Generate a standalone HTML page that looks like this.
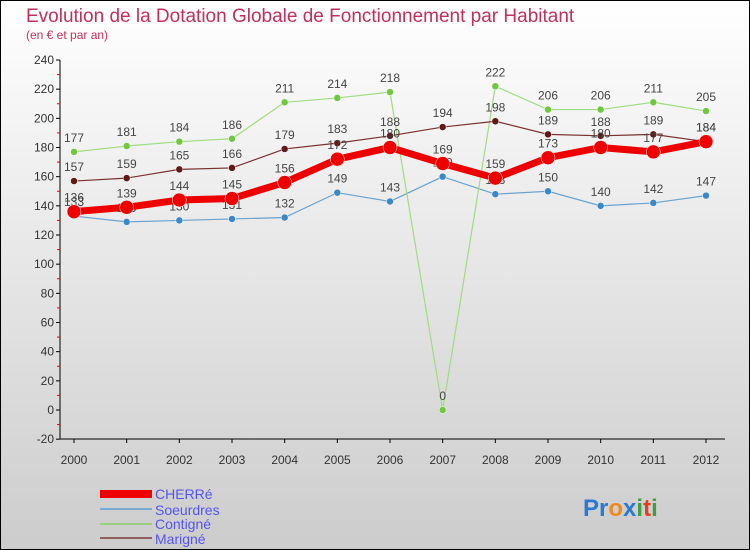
<!DOCTYPE html>
<html><head><meta charset="utf-8"><style>
body{margin:0;width:750px;height:550px;overflow:hidden}
svg{display:block;font-family:"Liberation Sans",sans-serif}
</style></head><body>
<svg id="c" width="750" height="550">
<defs><linearGradient id="bg" x1="0" y1="0" x2="0" y2="1"><stop offset="0" stop-color="#ffffff"/><stop offset="1" stop-color="#cccccc"/></linearGradient></defs>
<rect x="0.5" y="0.5" width="749" height="549" fill="url(#bg)" stroke="#000"/>
<text x="26" y="22" font-size="19" fill="#c0305a">Evolution de la Dotation Globale de Fonctionnement par Habitant</text>
<text x="26" y="39" font-size="12" fill="#c0305a">(en € et par an)</text>
<g id="axes"></g><g id="series"></g>
<g>
<rect x="100" y="490" width="52" height="8" fill="#e00"/>
<text x="155" y="499" font-size="14" fill="#5555ee">CHERRé</text>
<rect x="100" y="508" width="52" height="2" fill="#7aabd0"/>
<text x="155" y="515" font-size="14" fill="#5555ee">Soeurdres</text>
<rect x="100" y="523" width="52" height="2" fill="#9ad080"/>
<text x="155" y="529" font-size="14" fill="#5555ee">Contigné</text>
<rect x="100" y="537" width="52" height="2" fill="#906060"/>
<text x="155" y="544" font-size="14" fill="#5555ee">Marigné</text>
</g>
<text x="583" y="516" font-size="24" font-weight="bold"><tspan fill="#2a7ad0">Pr</tspan><tspan fill="#f08a20">o</tspan><tspan fill="#2a7ad0">x</tspan><tspan fill="#40a040">i</tspan><tspan fill="#e04020">t</tspan><tspan fill="#40a040">i</tspan></text>
</svg>
<script>
const years=[2000,2001,2002,2003,2004,2005,2006,2007,2008,2009,2010,2011,2012];
const yTicks=[-20,0,20,40,60,80,100,120,140,160,180,200,220,240];
const cherre=[136,139,144,145,156,172,180,169,159,173,180,177,184];
const soeurdres=[133,129,130,131,132,149,143,160,148,150,140,142,147];
const contigne=[177,181,184,186,211,214,218,0,222,206,206,211,205];
const marigne=[157,159,165,166,179,183,188,194,198,189,188,189,184];
const NS='http://www.w3.org/2000/svg';
const X=i=>74+i*(706-74)/12;
const Y=v=>410-v*(410-60)/240;
function mk(t,a,p){const e=document.createElementNS(NS,t);for(const k in a)e.setAttribute(k,a[k]);p.appendChild(e);return e;}
const ax=document.getElementById('axes');
const yl=mk('line',{x1:60,y1:60,x2:60,y2:439,stroke:'#000'},ax);


const xl=mk('line',{x1:60,y1:439,x2:725,y2:439,stroke:'#000'},ax);


yTicks.forEach((v,i)=>{
 mk('line',{x1:56,y1:Y(v),x2:60,y2:Y(v),stroke:'#000'},ax);
 if(i<yTicks.length-1)mk('line',{x1:57,y1:Y(v+10),x2:60,y2:Y(v+10),stroke:'#e00'},ax);
 const t=mk('text',{x:54,y:Y(v)+4,'font-size':12,fill:'#333','text-anchor':'end'},ax);t.textContent=v;
 
 
});
years.forEach((y,i)=>{
 mk('line',{x1:X(i),y1:439,x2:X(i),y2:443,stroke:'#000'},ax);
 const t=mk('text',{x:X(i),y:464,'font-size':12,fill:'#333','text-anchor':'middle'},ax);t.textContent=y;
 
 
});
const sg=document.getElementById('series');
function draw(data,name,col,dot,w,r){
 const g=mk('g',{},sg);
 
 
 const pl=mk('polyline',{points:data.map((v,i)=>X(i)+','+Y(v)).join(' '),fill:'none',stroke:col,'stroke-width':w},g);
 
 
 data.forEach((v,i)=>{
  const c=mk('circle',{cx:X(i),cy:Y(v),r:r,fill:dot,stroke:'#fff','stroke-width':0.5},g);
  
  
  const t=mk('text',{x:X(i),y:Y(v)-10,'font-size':12,fill:'#444','text-anchor':'middle'},g);t.textContent=v;
  
  
 });
}
draw(soeurdres,'soeurdres','#6aa3d0','#3a88c8',1.2,3.5);
draw(contigne,'contigne','#a0dc80','#70c840',1.2,3.5);
draw(marigne,'marigne','#7a3030','#601818',1.2,3.5);
draw(cherre,'cherre','#ee0000','#ee0000',7,7);
</script>
</body></html>
